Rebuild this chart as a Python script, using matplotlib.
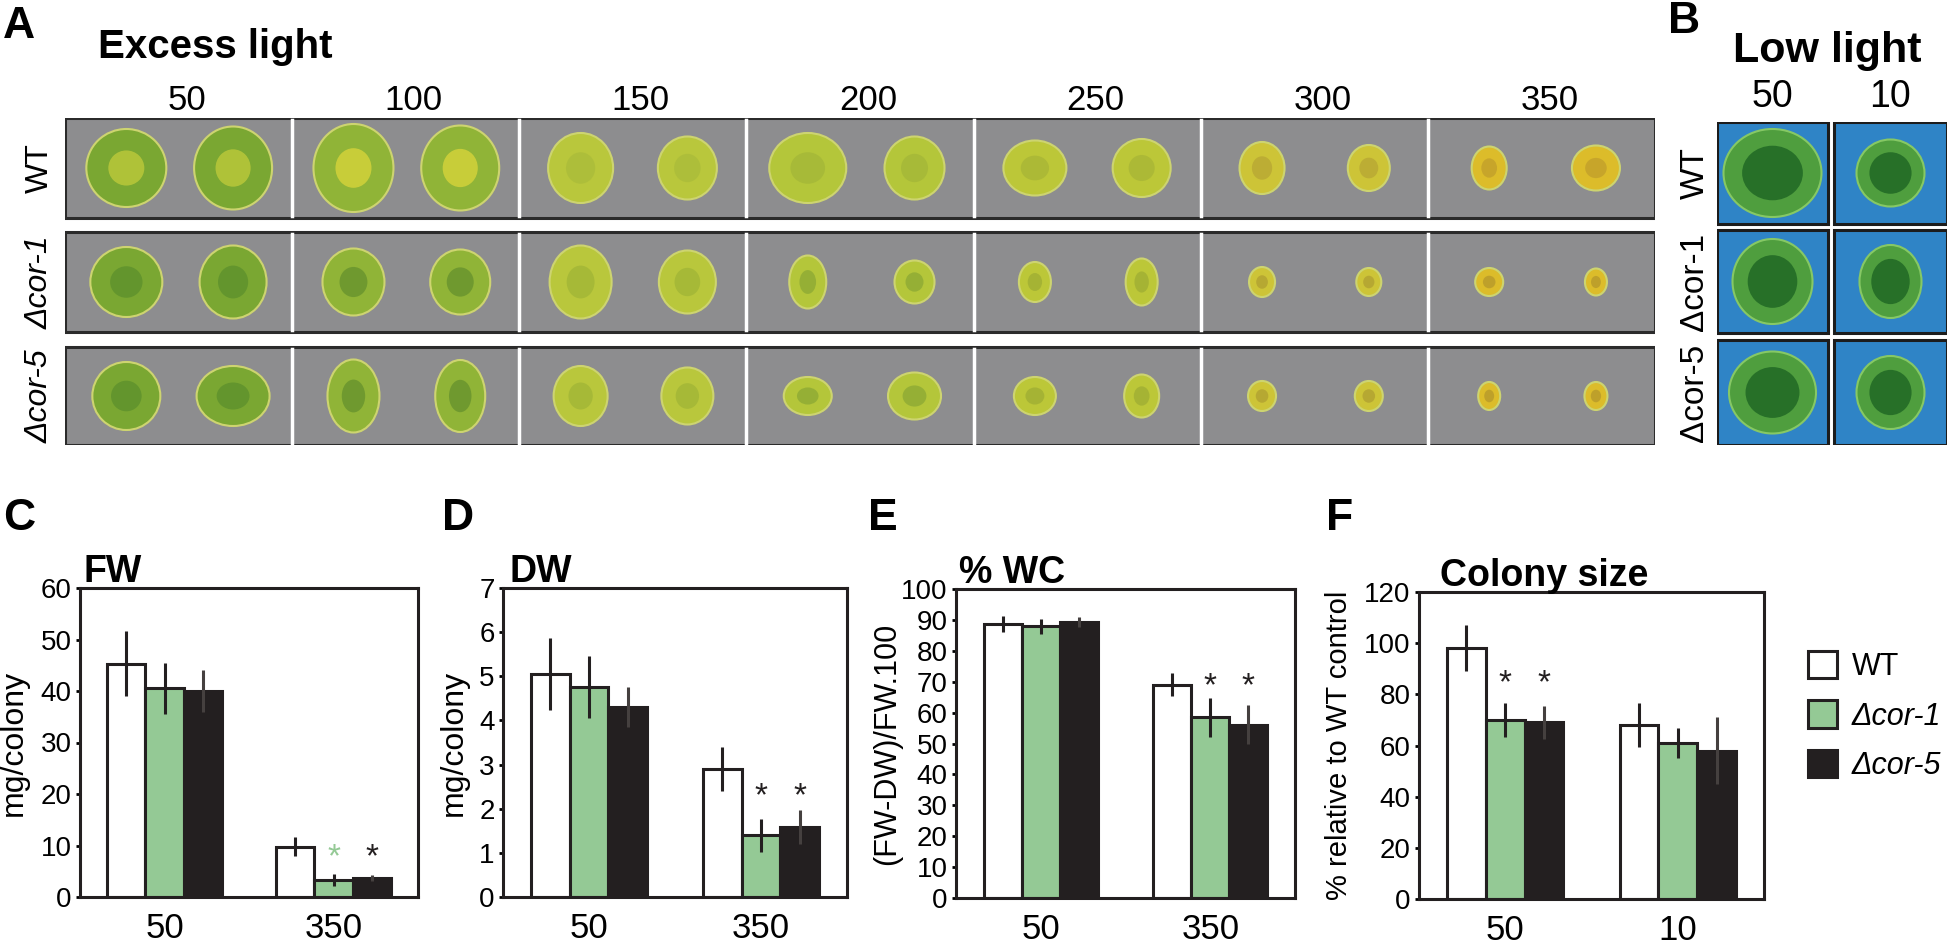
import matplotlib
matplotlib.use('Agg')
import matplotlib.pyplot as plt
from matplotlib.patches import Rectangle, Ellipse, Patch
import numpy as np

plt.rcParams['font.family'] = ['Liberation Sans', 'DejaVu Sans']

# ---- data ----
excess_light = ['50', '100', '150', '200', '250', '300', '350']
low_light = ['50', '10']
strains = ['WT', 'Δcor-1', 'Δcor-5']

# colony footprint in panel A, (width, height) in px, two colonies per light level
col_wt = [[(80, 78), (78, 83)], [(80, 88), (78, 85)], [(65, 70), (59, 63)], [(77, 70), (60, 63)],
          [(63, 55), (58, 58)], [(45, 52), (42, 46)], [(35, 43), (48, 45)]]
col_c1 = [[(72, 70), (67, 73)], [(62, 67), (60, 65)], [(62, 73), (57, 63)], [(37, 53), (40, 43)],
          [(32, 40), (32, 47)], [(26, 30), (25, 28)], [(28, 28), (22, 27)]]
col_c5 = [[(68, 68), (73, 60)], [(52, 73), (50, 72)], [(54, 60), (52, 57)], [(48, 38), (53, 47)],
          [(42, 38), (35, 43)], [(28, 30), (28, 30)], [(22, 28), (23, 28)]]
# panel B colonies (width, height), columns 50 / 10
low_wt = [(98, 88), (68, 67)]
low_c1 = [(80, 85), (62, 73)]
low_c5 = [(87, 82), (68, 73)]

groups_excess = ['50', '350']
groups_size = ['50', '10']

fw_wt, fw_wt_err = [45.3, 9.8], [6.3, 1.8]
fw_c1, fw_c1_err = [40.5, 3.3], [4.9, 1.1]
fw_c5, fw_c5_err = [40.0, 3.7], [4.0, 0.5]

dw_wt, dw_wt_err = [5.05, 2.9], [0.82, 0.49]
dw_c1, dw_c1_err = [4.75, 1.4], [0.70, 0.37]
dw_c5, dw_c5_err = [4.3, 1.58], [0.45, 0.38]

wc_wt, wc_wt_err = [88.7, 69.0], [2.5, 3.7]
wc_c1, wc_c1_err = [87.9, 58.5], [2.5, 6.3]
wc_c5, wc_c5_err = [89.2, 56.0], [1.6, 6.3]

cs_wt, cs_wt_err = [98, 68], [9, 8.5]
cs_c1, cs_c1_err = [70, 61], [6.5, 6]
cs_c5, cs_c5_err = [69, 58], [6.3, 13]

# significance marks: (group index, strain index, y position)
stars_fw = [(1, 1, 7.6), (1, 2, 7.6)]
stars_dw = [(1, 1, 2.27), (1, 2, 2.27)]
stars_wc = [(1, 1, 68.5), (1, 2, 68.5)]
stars_cs = [(0, 1, 84), (0, 2, 84)]

# ---- styles ----
W, H = 1950, 944
GREEN = '#94c995'
BLACK = '#231f20'
fills = ['white', GREEN, BLACK]
err_cols = [BLACK, BLACK, '#45403f']
outer_cols = ['#7aa732', '#90b437', '#b9c73c', '#b4c63a', '#bcc738', '#cdc437', '#dcbc2a']
inner_wt = ['#b9c83a', '#d3d23a', '#acbd3a', '#a5b838', '#aab736', '#b9a934', '#c4a22b']
inner_mut = ['#5f922d', '#6a952e', '#a3b737', '#90ac35', '#a2b034', '#b3a332', '#b99c2a']


def box(l, t, r, b):
    return [l / W, 1 - b / H, (r - l) / W, (b - t) / H]


fig = plt.figure(figsize=(W / 100, H / 100), dpi=100)

# ---- panel A ----
axA = fig.add_axes(box(65, 118, 1655, 445))
axA.set_xlim(0, 1590)
axA.set_ylim(327, 0)
axA.axis('off')
cw = 1590 / len(excess_light)
row_top = [0, 114, 229]
row_h = [100, 100, 98]
for r, cells in enumerate([col_wt, col_c1, col_c5]):
    top, h = row_top[r], row_h[r]
    inner = inner_wt if r == 0 else inner_mut
    axA.add_patch(Rectangle((0, top), 1590, h, fc='#8d8d8f', ec='#2b2b2b', lw=2.2, zorder=1))
    for c in range(1, len(excess_light)):
        axA.plot([c * cw, c * cw], [top + 2, top + h - 2], color='white', lw=2.5, zorder=2)
    for c, pair in enumerate(cells):
        for k, (w, hh) in enumerate(pair):
            cx = (c + [0.27, 0.74][k]) * cw
            cy = top + h / 2
            axA.add_patch(Ellipse((cx, cy), w, hh, fc=outer_cols[c], ec='#cdd470', lw=1.5, zorder=3))
            axA.add_patch(Ellipse((cx, cy), w * 0.45, hh * 0.45, fc=inner[c], ec='none',
                                  alpha=0.85, zorder=4))

fig.text(3 / W, 1 - 38 / H, 'A', fontsize=32, fontweight='bold', va='baseline')
fig.text(98 / W, 1 - 58 / H, 'Excess light', fontsize=29, fontweight='bold', va='baseline')
for c, lab in enumerate(excess_light):
    fig.text((65 + (c + 0.5) * cw + 8) / W, 1 - 100 / H, lab, fontsize=25, ha='center', va='center')
for r, lab in enumerate(strains):
    fig.text(40 / W, 1 - (118 + row_top[r] + row_h[r] / 2) / H, lab, fontsize=23, rotation=90,
             ha='center', va='center', style='normal' if r == 0 else 'italic')

# ---- panel B ----
axB = fig.add_axes(box(1717, 122, 1947, 445))
axB.set_xlim(0, 230)
axB.set_ylim(323, 0)
axB.axis('off')
bx = [(0, 111), (117, 230)]
by = [(0, 102), (108, 211), (218, 323)]
for r, cells in enumerate([low_wt, low_c1, low_c5]):
    for c, (w, hh) in enumerate(cells):
        x0, x1 = bx[c]
        y0, y1 = by[r]
        axB.add_patch(Rectangle((x0, y0), x1 - x0, y1 - y0, fc='#2f84c6', ec='#1c1c1c', lw=2.2))
        cx, cy = (x0 + x1) / 2, (y0 + y1) / 2
        axB.add_patch(Ellipse((cx, cy), min(w, x1 - x0 - 3), min(hh, y1 - y0 - 3),
                              fc='#4f9e3e', ec='#86c865', lw=1.5))
        axB.add_patch(Ellipse((cx, cy), w * 0.62, hh * 0.62, fc='#236b26', ec='none', alpha=0.9))

fig.text(1668 / W, 1 - 33 / H, 'B', fontsize=32, fontweight='bold', va='baseline')
fig.text(1827 / W, 1 - 62 / H, 'Low light', fontsize=31, fontweight='bold', ha='center', va='baseline')
for c, lab in enumerate(low_light):
    fig.text((1717 + (bx[c][0] + bx[c][1]) / 2) / W, 1 - 97 / H, lab, fontsize=27,
             ha='center', va='center')
for r, lab in enumerate(strains):
    fig.text(1695 / W, 1 - (122 + (by[r][0] + by[r][1]) / 2) / H, lab, fontsize=24, rotation=90,
             ha='center', va='center')


# ---- bar panels ----
def bar_panel(rect, groups, series, errs, ylim, yticks, stars, ylabel, lab_x, lab_size, title,
              title_x, letter, letter_x, star_cols=None):
    ax = fig.add_axes(box(*rect))
    x = np.arange(len(groups))
    bw = 0.225
    for i, (v, e) in enumerate(zip(series, errs)):
        xi = x + (i - 1) * bw
        ax.bar(xi, v, bw, color=fills[i], edgecolor=BLACK, linewidth=2.2, zorder=2)
        ax.errorbar(xi, v, yerr=e, fmt='none', ecolor=err_cols[i], elinewidth=2.2, capsize=0, zorder=3)
    for g, s, y in stars:
        col = star_cols[s] if star_cols else BLACK
        ax.text(g + (s - 1) * bw, y, '*', ha='center', va='center', fontsize=24, color=col, zorder=4)
    ax.set_xlim(-0.5, 1.5)
    ax.set_ylim(*ylim)
    ax.set_yticks(yticks)
    ax.set_xticks(x)
    ax.set_xticklabels(groups)
    ax.tick_params(axis='x', length=0, pad=11, labelsize=25)
    ax.tick_params(axis='y', length=3, width=2, pad=3, labelsize=20, direction='out')
    for sp in ax.spines.values():
        sp.set_linewidth(2.2)
        sp.set_color(BLACK)
    ax.set_ylabel(ylabel, fontsize=lab_size)
    ax.yaxis.set_label_coords(lab_x, 0.5)
    ax.text(title_x, 1.02, title, transform=ax.transAxes, fontsize=27, fontweight='bold',
            va='baseline', ha='left')
    fig.text(letter_x / W, 1 - 530 / H, letter, fontsize=32, fontweight='bold', va='baseline')
    return ax


bar_panel((80, 588, 418, 897), groups_excess, [fw_wt, fw_c1, fw_c5], [fw_wt_err, fw_c1_err, fw_c5_err],
          (0, 60), range(0, 61, 10), stars_fw, 'mg/colony', -0.15, 23, 'FW', 0.01, 'C', 3,
          star_cols=[BLACK, GREEN, BLACK])
bar_panel((503, 588, 847, 897), groups_excess, [dw_wt, dw_c1, dw_c5], [dw_wt_err, dw_c1_err, dw_c5_err],
          (0, 7), range(0, 8), stars_dw, 'mg/colony', -0.1, 23, 'DW', 0.02, 'D', 442)
bar_panel((956, 589, 1295, 898), groups_excess, [wc_wt, wc_c1, wc_c5], [wc_wt_err, wc_c1_err, wc_c5_err],
          (0, 100), range(0, 101, 10), stars_wc, '(FW-DW)/FW.100', -0.16, 22, '% WC', 0.01, 'E', 868)
bar_panel((1419, 592, 1764, 899), groups_size, [cs_wt, cs_c1, cs_c5], [cs_wt_err, cs_c1_err, cs_c5_err],
          (0, 120), range(0, 121, 20), stars_cs, '% relative to WT control', -0.19, 21, 'Colony size',
          0.06, 'F', 1326)

handles = [Patch(fc=f, ec=BLACK, lw=2.2) for f in fills]
leg = fig.legend(handles, strains, loc='center left', bbox_to_anchor=(1780 / W, 1 - 716 / H),
                 frameon=False, fontsize=22, handlelength=0.95, handleheight=1.0,
                 labelspacing=0.6, handletextpad=0.5)
for t in leg.get_texts()[1:]:
    t.set_style('italic')

fig.savefig('out.png', dpi=100)
